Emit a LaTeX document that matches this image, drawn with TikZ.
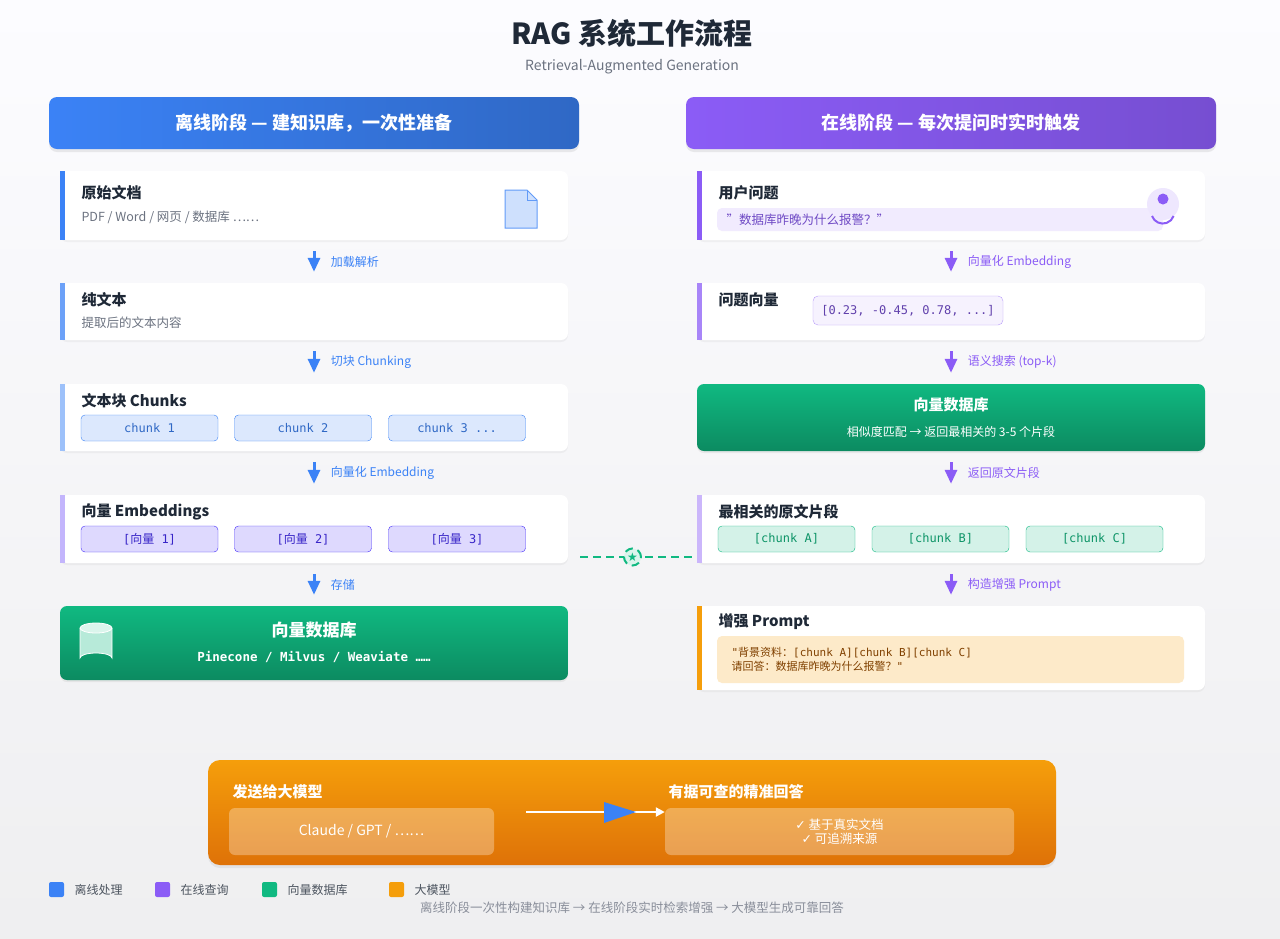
\documentclass[tikz,border=0pt]{standalone}
\usepackage{fontspec}
\setmainfont{Noto Sans CJK SC}
\newfontfamily\monof{DejaVu Sans Mono}
\newfontfamily\symf{DejaVu Sans}
\usetikzlibrary{shadows,arrows.meta}
\definecolor{blu}{HTML}{3B82F6}
\definecolor{pur}{HTML}{8B5CF6}
\definecolor{grn}{HTML}{10B981}
\definecolor{org}{HTML}{F59E0B}
\definecolor{ink}{HTML}{1F2937}
\definecolor{gry}{HTML}{6B7280}
\newcommand{\fs}[1]{\fontsize{#1}{#1}\selectfont}
\newcommand{\zh}[1]{{\rmfamily #1}}
\tikzset{
  card/.style={draw=none,fill=white,rounded corners=7pt,minimum width=508pt,
    minimum height=#1,drop shadow={opacity=0.08,shadow xshift=0pt,shadow yshift=-2pt}},
  head/.style={rounded corners=8pt,minimum width=530pt,minimum height=52pt,
    text=white,font=\fs{18}\bfseries,drop shadow={opacity=0.15,shadow xshift=0pt,shadow yshift=-3pt}},
  ttl/.style={anchor=west,text=ink,font=\fs{15}\bfseries},
  sub/.style={anchor=west,text=gry,font=\fs{12.5}},
  chip/.style={draw=#1,fill=#1!18,rounded corners=4pt,minimum width=137pt,
    minimum height=26pt,text=#1!80!black,font=\monof\fs{12}},
  flow/.style={-{Triangle[width=12pt,length=14pt]},line width=3pt,shorten <=11pt,shorten >=11pt},
  lbl/.style={anchor=west,font=\fs{12}},
  lg/.style={anchor=west,text=gry,font=\fs{12}}
}
\begin{document}
\begin{tikzpicture}[x=1pt,y=-1pt]
  \shade[top color=white!60!blue!3,bottom color=blue!5!gray!12] (0,0) rectangle (1280,938);
  \useasboundingbox (0,0) rectangle (1280,938);
  \node[text=ink,font=\fs{29}\bfseries] (title) at (632,33) {RAG 系统工作流程};
  \node[text=gry,font=\fs{14}] (subt) at (632,67) {Retrieval-Augmented Generation};
  % headers
  \node[head,left color=blu,right color=blu!80!black] (hoff) at (314,123) {离线阶段 — 建知识库，一次性准备};
  \node[head,left color=pur,right color=pur!85!black] (hon) at (951,123) {在线阶段 — 每次提问时实时触发};
  % offline column
  \node[card=69pt] (doc) at (314,205.5) {};
  \node[card=57pt] (txt) at (314,311.5) {};
  \node[card=67pt] (chk) at (314,417.5) {};
  \node[card=68pt] (emb) at (314,529) {};
  \node[rounded corners=7pt,minimum width=508pt,minimum height=74pt,top color=grn,bottom color=grn!75!black,
    drop shadow={opacity=0.12,shadow xshift=0pt,shadow yshift=-2pt}] (vdb) at (314,643) {};
  \fill[blu] (60,171) rectangle (65,240);
  \fill[blu!75] (60,283) rectangle (65,340);
  \fill[blu!50] (60,384) rectangle (65,451);
  \fill[blue!25!pur!40] (60,495) rectangle (65,563);
  \node[ttl] (docT) at (78,193) {原始文档};
  \node[sub] (docS) at (78,217) {PDF / Word / 网页 / 数据库 ……};
  \filldraw[draw=blu!80,fill=blu!25,line width=1pt] (505,190) -- (527,190) -- (537,200) -- (537,228) -- (505,228) -- cycle;
  \draw[blu!80,line width=1pt] (527,190) -- (527,200) -- (537,200);
  \node[ttl] (txtT) at (78,300) {纯文本};
  \node[sub] (txtS) at (78,323) {提取后的文本内容};
  \node[ttl] (chkT) at (78,401) {文本块 Chunks};
  \node[chip=blu] (c1) at (149.5,428) {chunk 1};
  \node[chip=blu] (c2) at (303,428) {chunk 2};
  \node[chip=blu] (c3) at (457,428) {chunk 3 ...};
  \node[ttl] (embT) at (78,512) {向量 Embeddings};
  \node[chip=blue!50!pur] (e1) at (149.5,539) {[\zh{向量} 1]};
  \node[chip=blue!50!pur] (e2) at (303,539) {[\zh{向量} 2]};
  \node[chip=blue!50!pur] (e3) at (457,539) {[\zh{向量} 3]};
  \filldraw[white!70!grn,draw=white,line width=0.8pt] (80,628) -- (80,658) arc[start angle=180,end angle=360,x radius=16,y radius=5] -- (112,628);
  \filldraw[white!85!grn,draw=white,line width=0.8pt] (96,628) ellipse[x radius=16,y radius=5];
  \node[text=white,font=\fs{17}\bfseries] (vdbT) at (314,630) {向量数据库};
  \node[text=white,font=\monof\bfseries\fs{12.5}] (vdbS) at (314,657) {Pinecone / Milvus / Weaviate ……};
  \foreach \a/\b/\t in {doc/txt/加载解析,txt/chk/切块 Chunking,chk/emb/向量化 Embedding,emb/vdb/存储}{
    \draw[flow,blu] (\a.south) -- (\b.north) node[midway,lbl,text=blu,xshift=12pt] {\t};
  }
  % online column
  \node[card=69pt] (q) at (951,205.5) {};
  \node[card=57pt] (qv) at (951,311.5) {};
  \node[rounded corners=7pt,minimum width=508pt,minimum height=67pt,top color=grn,bottom color=grn!75!black,
    drop shadow={opacity=0.12,shadow xshift=0pt,shadow yshift=-2pt}] (odb) at (951,417.5) {};
  \node[card=68pt] (top) at (951,529) {};
  \node[card=84pt] (pr) at (951,648) {};
  \fill[pur] (697,171) rectangle (702,240);
  \fill[pur!75] (697,283) rectangle (702,340);
  \fill[pur!45] (697,495) rectangle (702,563);
  \fill[org] (697,606) rectangle (702,690);
  \node[ttl] (qT) at (715,193) {用户问题};
  \fill[pur!12,rounded corners=5pt] (717,208) rectangle (1163,231);
  \node[anchor=west,text=pur!80!black,font=\fs{12.5}] (qS) at (723,219.5) {"数据库昨晚为什么报警？"};
  \fill[pur!15] (1163,204) circle (16);
  \fill[pur] (1163,199) circle (5.5);
  \draw[pur,line width=2pt] (1152,216) arc[start angle=160,end angle=20,radius=11.5];
  \node[ttl] (qvT) at (715,300) {问题向量};
  \node[draw=pur!60,fill=pur!8,rounded corners=5pt,minimum width=190pt,minimum height=29pt,
    text=pur!70!black,font=\monof\fs{12}] (vec) at (908,310.5) {[0.23, -0.45, 0.78, ...]};
  \node[text=white,font=\fs{15}\bfseries] (odbT) at (951,405) {向量数据库};
  \node[text=white,font=\fs{12}] (odbS) at (951,432) {相似度匹配 → 返回最相关的 3-5 个片段};
  \node[ttl] (topT) at (715,512) {最相关的原文片段};
  \node[chip=grn] (a1) at (786.5,539) {[chunk A]};
  \node[chip=grn] (a2) at (940.5,539) {[chunk B]};
  \node[chip=grn] (a3) at (1094.5,539) {[chunk C]};
  \node[ttl] (prT) at (715,622) {增强 Prompt};
  \node[fill=org!22,rounded corners=5pt,minimum width=467pt,minimum height=47pt] (pbox) at (950.5,659.5) {};
  \node[anchor=west,text=orange!50!black,font=\monof\fs{11},align=left] (ptxt) at (728,659.5)
    {"\zh{背景资料：}[chunk A][chunk B][chunk C]\\[3pt]\zh{请回答：数据库昨晚为什么报警？}"};
  \foreach \a/\b/\t in {q/qv/向量化 Embedding,qv/odb/语义搜索 (top-k),odb/top/返回原文片段,top/pr/构造增强 Prompt}{
    \draw[flow,pur] (\a.south) -- (\b.north) node[midway,lbl,text=pur,xshift=12pt] {\t};
  }
  % link between columns
  \coordinate (lk) at (emb.east|-0,557);
  \coordinate (rk) at (top.west|-0,557);
  \draw[grn,line width=2.5pt,dash pattern=on 8pt off 5pt,shorten <=12pt,shorten >=1pt] (lk) -- (rk)
    node[midway,circle,draw=grn,fill=white!85!grn,line width=2pt,minimum size=17pt,inner sep=0pt,
    text=grn,font=\symf\fs{12}] (star) {★};
  % LLM box
  \node[rounded corners=12pt,minimum width=848pt,minimum height=105pt,top color=org,bottom color=org!80!red!90!black,
    drop shadow={opacity=0.12,shadow xshift=0pt,shadow yshift=-3pt}] (llm) at (632,812.5) {};
  \node[anchor=west,text=white,font=\fs{15}\bfseries] (llmT) at (229,792) {发送给大模型};
  \node[fill=white,fill opacity=0.3,text opacity=1,text=white,rounded corners=6pt,minimum width=265pt,
    minimum height=47pt,font=\fs{14}] (mdl) at (361.5,831.5) {Claude / GPT / ……};
  \node[anchor=west,text=white,font=\fs{15}\bfseries] (ansT) at (665,792) {有据可查的精准回答};
  \node[fill=white,fill opacity=0.3,text opacity=1,text=white,rounded corners=6pt,minimum width=349pt,
    minimum height=47pt,font=\fs{12.5},align=center] (ans) at (839.5,831.5)
    {{\symf ✓} 基于真实文档\\[2pt]{\symf ✓} 可追溯来源};
  \draw[white,line width=2.5pt,-{Triangle[width=9pt,length=9pt]}] (mdl.east|-0,812)++(32,0) coordinate (ga) -- (ans.west|-0,812);
  \fill[blu] (604,802) -- (636,812) -- (604,823) -- cycle;
  % legend
  \foreach \c/\x/\t in {blu/49/离线处理,pur/155/在线查询,grn/262/向量数据库,org/389/大模型}{
    \fill[\c,rounded corners=2pt] (\x,882) rectangle ++(15,15);
    \node[lg,text=ink!80] at (\x+22,890) {\t};
  }
  \node[text=gry!80,font=\fs{12.5}] (foot) at (632,908) {离线阶段一次性构建知识库 → 在线阶段实时检索增强 → 大模型生成可靠回答};
\end{tikzpicture}
\end{document}
